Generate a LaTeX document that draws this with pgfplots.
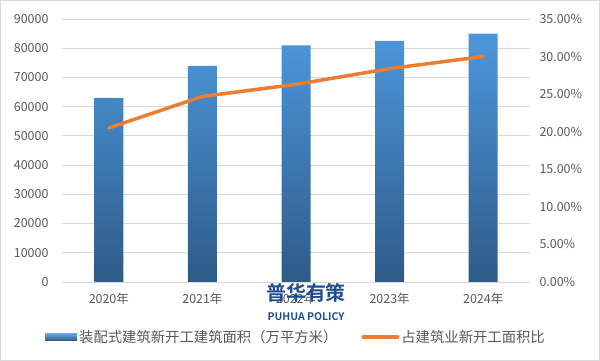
\documentclass[border=0pt]{standalone}
\usepackage{pgfplots}
\pgfplotsset{compat=1.18}
\usepackage{fontspec}
\setmainfont{Noto Sans CJK SC}
\newfontfamily\wmfont{Noto Sans CJK SC Bold}
\definecolor{txt}{HTML}{595959}
\definecolor{gridc}{HTML}{D9D9D9}
\definecolor{bartop}{HTML}{4C97DC}
\definecolor{barbot}{HTML}{2E5B88}
\definecolor{orng}{HTML}{ED7D31}
\definecolor{wm}{HTML}{1F4E8C}
\begin{document}
\begin{tikzpicture}
\useasboundingbox (0,0) rectangle (600bp,361bp);
\draw[gridc] (0.5bp,0.5bp) rectangle (599.5bp,360.5bp);
\begin{axis}[
  at={(62bp,79bp)}, anchor=south west,
  width=468bp, height=263bp, scale only axis,
  xmin=-0.5, xmax=4.5, ymin=0, ymax=90000,
  xtick={0,1,2,3,4},
  xticklabels={2020年,2021年,2022年,2023年,2024年},
  ytick={0,10000,...,90000},
  scaled y ticks=false,
  /pgf/number format/fixed,
  /pgf/number format/1000 sep={},
  /pgf/number format/assume math mode=true,
  ymajorgrids, grid style={gridc, line width=0.8bp},
  axis line style={draw=none},
  major tick length=0pt,
  tick label style={font=\fontsize{12.5}{14}\selectfont, text=txt},
  xticklabel style={yshift=-7bp},
  yticklabel style={xshift=-10bp},
]
\addplot[ybar, bar width=29bp, draw=none, top color=bartop, bottom color=barbot]
  coordinates {(0,63000) (1,74000) (2,81000) (3,82500) (4,85000)};
\end{axis}
\begin{axis}[
  at={(62bp,79bp)}, anchor=south west,
  width=468bp, height=263bp, scale only axis,
  xmin=-0.5, xmax=4.5, ymin=0, ymax=35,
  axis y line*=right, axis x line=none,
  axis line style={draw=none},
  ytick={0,5,...,35},
  major tick length=0pt,
  yticklabel={\pgfmathprintnumber[fixed,fixed zerofill,precision=2,assume math mode=true]{\tick}\%},
  tick label style={font=\fontsize{12.5}{14}\selectfont, text=txt},
  yticklabel style={xshift=6bp},
  legend columns=2,
  legend style={at={(0.5,-0.2095)}, anchor=center, draw=none, fill=none,
    font=\fontsize{14.4}{16}\selectfont, text=txt,
    /tikz/every even column/.append style={column sep=22bp},
    inner sep=0pt, row sep=0pt},
  legend cell align=left,
]
\addlegendimage{legend image code/.code={\fill[draw=none, top color=bartop!85, bottom color=barbot] (0bp,-3.5bp) rectangle (32bp,3.5bp);}}
\addlegendentry{装配式建筑新开工建筑面积（万平方米）}
\addplot[orng, line width=3.5bp, line cap=round, line join=round,
  legend image code/.code={\draw[orng, line width=4bp, line cap=round] (0bp,0bp) -- (34bp,0bp);}]
  coordinates {(0,20.5) (1,24.7) (2,26.3) (3,28.4) (4,30.0)};
\addlegendentry{占建筑业新开工面积比}
\end{axis}
\node[text=wm, font=\wmfont\fontsize{20}{21}\selectfont, inner sep=0pt] at (306bp,68bp) {普华有策};
\node[text=wm, font=\wmfont\fontsize{10.5}{11}\selectfont, inner sep=0pt] at (306bp,44bp) {PUHUA POLICY};
\end{tikzpicture}
\end{document}
